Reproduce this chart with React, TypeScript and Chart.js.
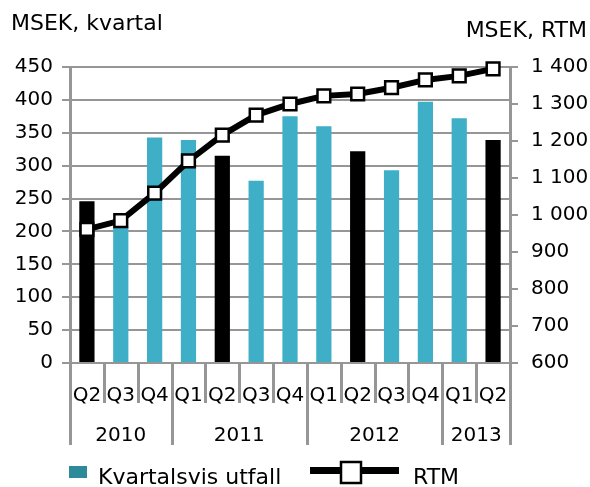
import React, { useEffect, useRef } from "react";
import { Chart, registerables } from "chart.js";

Chart.register(...registerables);

// ---- Data ----
const quarters = ["Q2", "Q3", "Q4", "Q1", "Q2", "Q3", "Q4", "Q1", "Q2", "Q3", "Q4", "Q1", "Q2"];
const years = ["2010", "2011", "2012", "2013"];
const quartersPerYear = [3, 4, 4, 2];
const quarterlyValues = [246, 207, 343, 339, 315, 277, 375, 360, 322, 293, 397, 372, 339];
const rtmValues = [961, 985, 1059, 1146, 1216, 1270, 1300, 1322, 1327, 1344, 1365, 1376, 1395];
const leftTitle = "MSEK, kvartal";
const rightTitle = "MSEK, RTM";
const barLegend = "Kvartalsvis utfall";
const lineLegend = "RTM";

// ---- Styles ----
const TEAL = "#3FAFC8";
const TEAL_LEGEND = "#2D8A99";
const BLACK = "#000000";
const GRID = "#969696";
const FONT = "'DejaVu Sans', 'Liberation Sans', Arial, sans-serif";

const overlayPlugin = {
  id: "overlay",
  afterDraw(chart: any) {
    const ctx = chart.ctx as CanvasRenderingContext2D;
    const x = chart.scales.x;
    const area = chart.chartArea;
    const n = quarters.length;
    const catW = (area.right - area.left) / n;
    const bottom = area.bottom;

    ctx.save();
    // separators
    ctx.strokeStyle = GRID;
    ctx.lineWidth = 3;
    const yearBounds = new Set<number>();
    let acc = 0;
    yearBounds.add(0);
    quartersPerYear.forEach((c) => {
      acc += c;
      yearBounds.add(acc);
    });
    for (let i = 0; i <= n; i++) {
      const px =
        i < n ? x.getPixelForValue(i) - catW / 2 : x.getPixelForValue(n - 1) + catW / 2;
      const len = yearBounds.has(i) ? 82 : 40;
      ctx.beginPath();
      ctx.moveTo(Math.round(px) + 0.5, bottom);
      ctx.lineTo(Math.round(px) + 0.5, bottom + len);
      ctx.stroke();
    }

    // quarter labels
    ctx.fillStyle = "#000";
    ctx.textAlign = "center";
    ctx.textBaseline = "alphabetic";
    ctx.font = `20px ${FONT}`;
    quarters.forEach((q, i) => {
      ctx.fillText(q, x.getPixelForValue(i), bottom + 38);
    });

    // year labels
    let start = 0;
    years.forEach((yr, k) => {
      const end = start + quartersPerYear[k] - 1;
      const cx = (x.getPixelForValue(start) + x.getPixelForValue(end)) / 2;
      ctx.fillText(yr, cx, bottom + 78);
      start = end + 1;
    });

    // titles
    ctx.font = `22px ${FONT}`;
    ctx.textAlign = "left";
    ctx.fillText(leftTitle, 11, 30);
    ctx.textAlign = "right";
    ctx.fillText(rightTitle, 587, 37);

    // legend
    ctx.fillStyle = TEAL_LEGEND;
    ctx.fillRect(69, 466, 18, 12);
    ctx.fillStyle = "#000";
    ctx.textAlign = "left";
    ctx.fillText(barLegend, 98, 484);

    ctx.strokeStyle = BLACK;
    ctx.lineWidth = 7;
    ctx.beginPath();
    ctx.moveTo(310, 470.5);
    ctx.lineTo(399, 470.5);
    ctx.stroke();
    ctx.fillStyle = "#fff";
    ctx.lineWidth = 2.5;
    ctx.fillRect(341, 462, 20, 21);
    ctx.strokeRect(341, 462, 20, 21);
    ctx.fillStyle = "#000";
    ctx.fillText(lineLegend, 413, 484);
    ctx.restore();
  },
};

export default function App() {
  const canvasRef = useRef<HTMLCanvasElement | null>(null);

  useEffect(() => {
    document.body.style.margin = "0";
    const canvas = canvasRef.current;
    if (!canvas) return;
    const chart = new Chart(canvas, {
      type: "bar",
      data: {
        labels: quarters,
        datasets: [
          {
            type: "line",
            label: lineLegend,
            data: rtmValues,
            yAxisID: "y1",
            borderColor: BLACK,
            borderWidth: 6,
            tension: 0,
            pointStyle: "rect",
            pointRadius: 9,
            pointBorderWidth: 2.5,
            pointBackgroundColor: "#fff",
            pointBorderColor: BLACK,
            clip: false,
            order: 0,
          } as any,
          {
            type: "bar",
            label: barLegend,
            data: quarterlyValues,
            yAxisID: "y",
            backgroundColor: quarters.map((q) => (q === "Q2" ? BLACK : TEAL)),
            barPercentage: 0.45,
            categoryPercentage: 1,
            order: 1,
          },
        ],
      },
      options: {
        responsive: false,
        animation: false,
        layout: { padding: { top: 67, left: 0, right: 0, bottom: 0 } },
        plugins: {
          legend: { display: false },
          tooltip: { enabled: false },
        },
        scales: {
          x: {
            offset: true,
            grid: { display: false },
            border: { display: false },
            ticks: { display: false },
            afterFit: (s: any) => {
              s.height = 124;
            },
          },
          y: {
            position: "left",
            min: 0,
            max: 450,
            ticks: {
              stepSize: 50,
              color: "#000",
              font: { family: FONT, size: 20 },
              padding: 9,
            },
            grid: { color: GRID, lineWidth: 2, tickLength: 8 },
            border: { color: GRID, width: 3 },
            afterFit: (s: any) => {
              s.width = 70;
            },
          },
          y1: {
            position: "right",
            min: 600,
            max: 1400,
            ticks: {
              stepSize: 100,
              color: "#000",
              font: { family: FONT, size: 20 },
              padding: 13,
              callback: (v: any) => String(v).replace(/\B(?=(\d{3})+(?!\d))/g, " "),
            },
            grid: { drawOnChartArea: false, color: GRID, lineWidth: 2, tickLength: 8 },
            border: { color: GRID, width: 3 },
            afterFit: (s: any) => {
              s.width = 80;
            },
          },
        },
      },
      plugins: [overlayPlugin],
    });
    return () => chart.destroy();
  }, []);

  return (
    <div style={{ position: "absolute", left: 0, top: 0, width: 590, height: 487, background: "#fff" }}>
      <canvas ref={canvasRef} width={590} height={487} style={{ width: 590, height: 487 }} />
    </div>
  );
}
